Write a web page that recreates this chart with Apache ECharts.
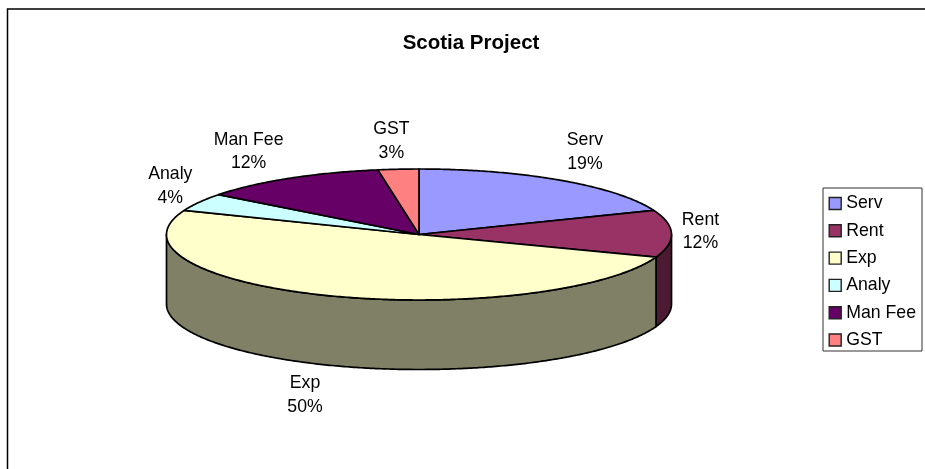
<!DOCTYPE html>
<html>
<head>
<meta charset="utf-8">
<style>html,body{margin:0;padding:0;background:#fff}#chart{width:925px;height:469px}</style>
<script src="https://cdn.jsdelivr.net/npm/echarts@6/dist/echarts.min.js"></script>
</head>
<body>
<div id="chart"></div>
<script>
// Project cost split, in percent of the total
const categories = ['Serv', 'Rent', 'Exp', 'Analy', 'Man Fee', 'GST'];
const shares = [19, 11.6, 50.4, 4.4, 12, 2.6];
const chartTitle = 'Scotia Project';

// Slice fills and the darker tones of their rims
const topColors = ['#9999FF', '#993366', '#FFFFCC', '#CCFFFF', '#660066', '#FF8080'];
const rimColors = ['#4D4D80', '#4D1A33', '#808066', '#668080', '#330033', '#804040'];

// Tilted disc geometry
const disc = { cx: 419, cy: 234.5, rx: 252.5, ry: 65.5, depth: 69.5 };
// Label centre relative to the rim point at each slice's mid-angle
const labelShift = [[24, -28], [29, -2], [-24, 30], [-29, -16], [-40.5, -26.5], [-7, -28]];
const font = 'Liberation Sans, Arial, sans-serif';
const total = shares.reduce((a, b) => a + b, 0);

const rimPoint = (t, drop) => [
  disc.cx + disc.rx * Math.sin(t),
  disc.cy - disc.ry * Math.cos(t) + (drop || 0)
];

// Sample an arc of the ellipse from angle a to b (clockwise from the top)
function arcPoints(a, b, drop) {
  const n = Math.max(2, Math.ceil((b - a) / 0.01));
  const pts = [];
  for (let i = 0; i <= n; i++) pts.push(rimPoint(a + (b - a) * i / n, drop));
  return pts;
}

function sliceRenderer(index) {
  return function (params, api) {
    const before = shares.slice(0, index).reduce((a, b) => a + b, 0);
    const start = before / total * 2 * Math.PI;
    const end = (before + api.value(0)) / total * 2 * Math.PI;
    const children = [];
    const lineStyle = { stroke: '#000', lineWidth: 1.7, lineJoin: 'round' };

    // The rim is only visible along the front half of the ellipse
    const a = Math.max(start, Math.PI / 2);
    const b = Math.min(end, 3 * Math.PI / 2);
    if (b > a) {
      const points = arcPoints(a, b, 0).concat(arcPoints(a, b, disc.depth).reverse());
      children.push({
        type: 'polygon',
        shape: { points },
        style: Object.assign({ fill: rimColors[index] }, lineStyle)
      });
    }

    children.push({
      type: 'polygon',
      z2: 5,
      shape: { points: [[disc.cx, disc.cy]].concat(arcPoints(start, end, 0)) },
      style: Object.assign({ fill: topColors[index] }, lineStyle)
    });

    const mid = (start + end) / 2;
    const inFront = mid > Math.PI / 2 && mid < 3 * Math.PI / 2;
    const anchor = rimPoint(mid, inFront ? disc.depth : 0);
    children.push({
      type: 'text',
      z2: 10,
      x: anchor[0] + labelShift[index][0],
      y: anchor[1] + labelShift[index][1],
      style: {
        text: categories[index] + '\n' + Math.round(api.value(0) / total * 100) + '%',
        font: '17.7px ' + font,
        lineHeight: 23.5,
        fill: '#000',
        align: 'center',
        verticalAlign: 'middle'
      }
    });
    return { type: 'group', children };
  };
}

const chart = echarts.init(document.getElementById('chart'), null, { renderer: 'canvas' });
chart.setOption({
  animation: false,
  title: {
    text: chartTitle,
    left: 466,
    top: 27.5,
    textAlign: 'center',
    textStyle: { fontFamily: font, fontSize: 20.5, fontWeight: 'bold', color: '#000' }
  },
  legend: {
    orient: 'vertical',
    left: 823,
    top: 188,
    padding: [6.5, 6, 2, 5.5],
    itemWidth: 12,
    itemHeight: 12,
    itemGap: 9.3,
    selectedMode: false,
    backgroundColor: '#fff',
    borderColor: '#333',
    borderWidth: 1,
    icon: 'rect',
    itemStyle: { borderColor: '#222', borderWidth: 1.4 },
    textStyle: { fontFamily: font, fontSize: 17.7, color: '#000' },
    data: categories
  },
  graphic: [{
    type: 'rect',
    silent: true,
    z: -1,
    shape: { x: 7.5, y: 9, width: 1000, height: 1000 },
    style: { fill: '#fff', stroke: '#000', lineWidth: 1.5 }
  }],
  series: categories.map((name, i) => ({
    type: 'custom',
    name,
    coordinateSystem: 'none',
    itemStyle: { color: topColors[i] },
    renderItem: sliceRenderer(i),
    data: [[shares[i]]]
  }))
});
</script>
</body>
</html>
